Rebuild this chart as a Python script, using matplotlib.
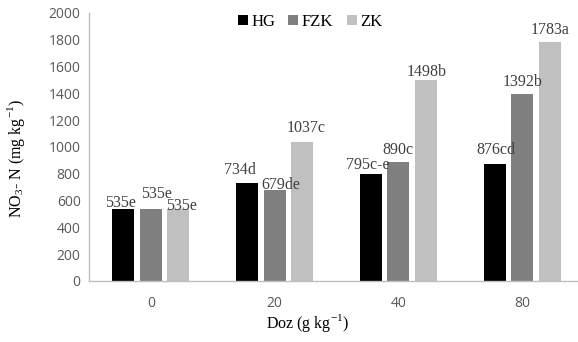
import matplotlib
matplotlib.use("Agg")
import matplotlib.pyplot as plt
import numpy as np

# data
doses = ["0", "20", "40", "80"]
series = ["HG", "FZK", "ZK"]
hg = [535, 734, 795, 876]
fzk = [535, 679, 890, 1392]
zk = [535, 1037, 1498, 1783]
hg_lbl = ["535e", "734d", "795c-e", "876cd"]
fzk_lbl = ["535e", "679de", "890c", "1392b"]
zk_lbl = ["535e", "1037c", "1498b", "1783a"]

colors = ["#000000", "#7f7f7f", "#c0c0c0"]
# label nudges (pixels): dx, dy above the bar top, per series per dose
nudges = [
    [(-3, 2), (-7, 9), (-3, 5), (1, 10)],
    [(6, 11), (6, 1), (0, 8), (0, 8)],
    [(3, -1), (4, 10), (1, 4), (0, 8)],
]

SERIF = "Liberation Serif"
SANS = "Open Sans"
GRID = "#bfbfbf"
plt.rcParams["mathtext.fontset"] = "custom"
plt.rcParams["mathtext.rm"] = SERIF

fig = plt.figure(figsize=(5.78, 3.42), dpi=100)
ax = fig.add_axes([89/578, 1-281/342, 495/578, 268/342])

x = np.arange(len(doses))
w, off = 0.178, 0.222
for k, (vals, lbls) in enumerate(zip([hg, fzk, zk], [hg_lbl, fzk_lbl, zk_lbl])):
    pos = x + (k-1)*off
    ax.bar(pos, vals, w, color=colors[k], label=series[k])
    for i, (p, v, t) in enumerate(zip(pos, vals, lbls)):
        dx, dy = nudges[k][i]
        ax.annotate(t, (p, v), xytext=(dx, dy), textcoords="offset pixels",
                    ha="center", va="baseline", fontsize=11.5, family=SERIF, color="#404040")

ax.set_xlim(-0.5, 3.5)
ax.set_ylim(0, 2000)
ax.set_yticks(range(0, 2001, 200))
ax.set_xticks(x)
ax.set_xticklabels(doses)
ax.tick_params(length=0, labelsize=10, labelcolor="#595959", pad=6)
ax.tick_params(axis="x", pad=11)
for lab in ax.get_xticklabels() + ax.get_yticklabels():
    lab.set_family(SANS)
for s in ["top", "right"]:
    ax.spines[s].set_visible(False)
for s in ["left", "bottom"]:
    ax.spines[s].set_color(GRID)
    ax.spines[s].set_linewidth(1)

fig.text(16/578, 1-158/342, r"NO$_3$- N (mg kg$^{\mathregular{-1}}$)", rotation=90,
         ha="center", va="center", fontsize=11.5, family=SERIF)
fig.text(308/578, 1-323/342, r"Doz (g kg$^{\mathregular{-1}}$)",
         ha="center", va="center", fontsize=11.5, family=SERIF)

leg = fig.legend(loc="center", bbox_to_anchor=(310/578, 1-22/342), ncol=3, frameon=False,
                 handlelength=0.6, handleheight=0.6, handletextpad=0.2, columnspacing=0.8,
                 prop={"family": SERIF, "size": 12})

fig.savefig("out.png", dpi=100)
